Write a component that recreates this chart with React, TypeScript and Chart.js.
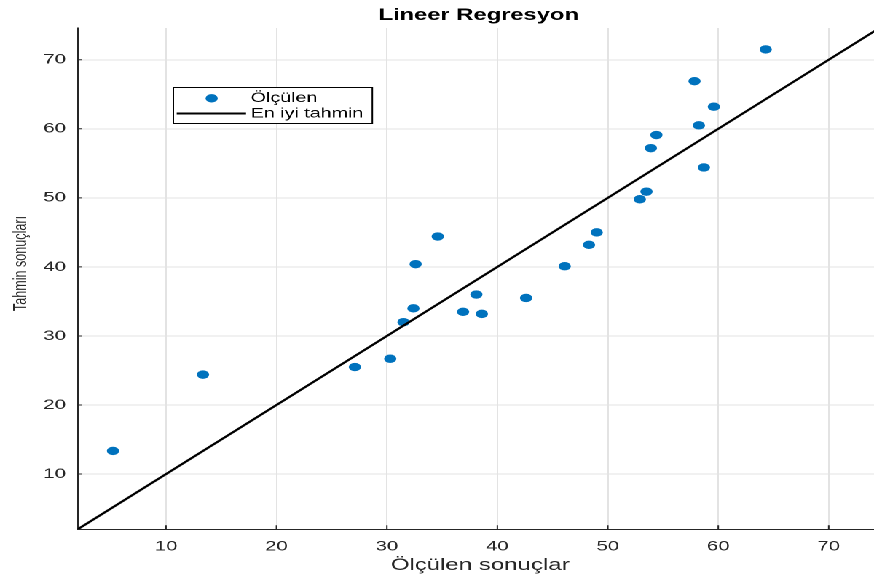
import React, { useEffect, useRef } from "react";
import { Chart, registerables } from "chart.js";

Chart.register(...registerables);

// ---- data ----
const measured = [5.2, 13.35, 27.1, 30.3, 31.5, 32.4, 32.6, 34.6, 36.9, 38.1, 38.6, 42.6, 46.1, 48.3, 49.0, 52.9, 53.5, 53.9, 54.4, 57.85, 58.25, 58.7, 59.6, 64.3];
const predicted = [13.35, 24.4, 25.5, 26.7, 32.0, 34.0, 40.4, 44.4, 33.5, 36.0, 33.2, 35.5, 40.1, 43.2, 45.0, 49.8, 50.9, 57.2, 59.1, 66.9, 60.5, 54.4, 63.2, 71.5];
const fitX = [0, 80];
const fitY = [0, 80];
const tickValues = [10, 20, 30, 40, 50, 60, 70];
const xRange = [2, 74.1];
const yRange = [2, 74.6];
const titleText = "Lineer Regresyon";
const xTitle = "Ölçülen sonuçlar";
const yTitle = "Tahmin sonuçları";
const legendLabels = ["Ölçülen", "En iyi tahmin"];

// ---- style ----
const W = 600;
const H = 578;
const SX = 874 / W;
const FONT = '"Liberation Sans", Arial, Helvetica, sans-serif';
const BLUE = "#0072BD";
const AXIS = "#262626";
const GRID = "#e3e3e3";

const decor = {
  id: "decor",
  afterDraw(chart: any) {
    const ctx = chart.ctx;
    const ca = chart.chartArea;
    const xs = chart.scales.x;
    const ys = chart.scales.y;
    ctx.save();
    // inward tick marks
    ctx.strokeStyle = AXIS;
    ctx.lineWidth = 1;
    ctx.beginPath();
    xs.ticks.forEach((t: any) => {
      const px = xs.getPixelForValue(t.value);
      ctx.moveTo(px, ca.bottom);
      ctx.lineTo(px, ca.bottom - 4);
    });
    ys.ticks.forEach((t: any) => {
      const py = ys.getPixelForValue(t.value);
      ctx.moveTo(ca.left, py);
      ctx.lineTo(ca.left + 3, py);
    });
    ctx.stroke();

    // title
    const cx = (ca.left + ca.right) / 2;
    ctx.fillStyle = "#000";
    ctx.font = `bold 16.3px ${FONT}`;
    ctx.textAlign = "center";
    ctx.textBaseline = "alphabetic";
    ctx.fillText(titleText, cx + 2, 20);

    // x title
    ctx.fillStyle = AXIS;
    ctx.font = `16.5px ${FONT}`;
    ctx.fillText(xTitle, cx + 3, 570);

    // y title
    ctx.save();
    ctx.translate(14.6, 263.5);
    ctx.rotate(-Math.PI / 2);
    ctx.font = `12.6px ${FONT}`;
    ctx.textBaseline = "middle";
    ctx.fillText(yTitle, 0, 0);
    ctx.restore();

    // legend
    const bx = 119, by = 87.5, bw = 136.6, bh = 36;
    ctx.fillStyle = "#fff";
    ctx.fillRect(bx, by, bw, bh);
    ctx.strokeStyle = "#000";
    ctx.lineWidth = 1;
    ctx.strokeRect(bx, by, bw, bh);
    ctx.fillStyle = BLUE;
    ctx.beginPath();
    ctx.arc(145.3, 98.3, 4.2, 0, Math.PI * 2);
    ctx.fill();
    ctx.strokeStyle = "#000";
    ctx.lineWidth = 2;
    ctx.beginPath();
    ctx.moveTo(121.3, 113.5);
    ctx.lineTo(168.9, 113.5);
    ctx.stroke();
    ctx.fillStyle = "#000";
    ctx.font = `13.5px ${FONT}`;
    ctx.textAlign = "left";
    ctx.textBaseline = "middle";
    ctx.fillText(legendLabels[0], 172.1, 98.5);
    ctx.fillText(legendLabels[1], 172.1, 114);
    ctx.restore();
  },
};

export default function App() {
  const ref = useRef<HTMLCanvasElement | null>(null);
  useEffect(() => {
    document.body.style.margin = "0";
    const canvas = ref.current;
    if (!canvas) return;
    const setTicks = (scale: any) => {
      scale.ticks = tickValues.map((v) => ({ value: v }));
    };
    const chart = new Chart(canvas, {
      type: "scatter",
      data: {
        datasets: [
          {
            type: "line",
            label: legendLabels[1],
            data: fitX.map((x, i) => ({ x, y: fitY[i] })),
            borderColor: "#000",
            borderWidth: 2,
            pointRadius: 0,
            fill: false,
            order: 0,
          } as any,
          {
            type: "scatter",
            label: legendLabels[0],
            data: measured.map((x, i) => ({ x, y: predicted[i] })),
            backgroundColor: BLUE,
            borderColor: BLUE,
            pointRadius: 4.2,
            pointBorderWidth: 0,
            order: 1,
          },
        ],
      },
      options: {
        animation: false,
        responsive: false,
        devicePixelRatio: 2,
        layout: { autoPadding: false, padding: { left: 0, right: 0, top: 28, bottom: 0 } },
        plugins: { legend: { display: false }, tooltip: { enabled: false }, title: { display: false } },
        scales: {
          x: {
            type: "linear",
            min: xRange[0],
            max: xRange[1],
            afterBuildTicks: setTicks,
            afterFit: (s: any) => { s.height = 48.7; s.paddingLeft = 0; s.paddingRight = 0; },
            grid: { color: GRID, drawTicks: false, lineWidth: 1 },
            border: { display: true, color: AXIS, width: 1 },
            ticks: { color: AXIS, font: { family: FONT, size: 14 }, padding: 9, maxRotation: 0 },
          },
          y: {
            type: "linear",
            min: yRange[0],
            max: yRange[1],
            afterBuildTicks: setTicks,
            afterFit: (s: any) => { s.width = 53.3; s.paddingTop = 0; s.paddingBottom = 0; },
            grid: { color: GRID, drawTicks: false, lineWidth: 1 },
            border: { display: true, color: AXIS, width: 1 },
            ticks: { color: AXIS, font: { family: FONT, size: 14 }, padding: 8 },
          },
        },
      },
      plugins: [decor],
    });
    return () => chart.destroy();
  }, []);
  return (
    <div
      style={{
        position: "fixed",
        left: 0,
        top: 0,
        width: W,
        height: H,
        transform: `scaleX(${SX})`,
        transformOrigin: "0 0",
        background: "#fff",
      }}
    >
      <canvas ref={ref} width={W} height={H} />
    </div>
  );
}
